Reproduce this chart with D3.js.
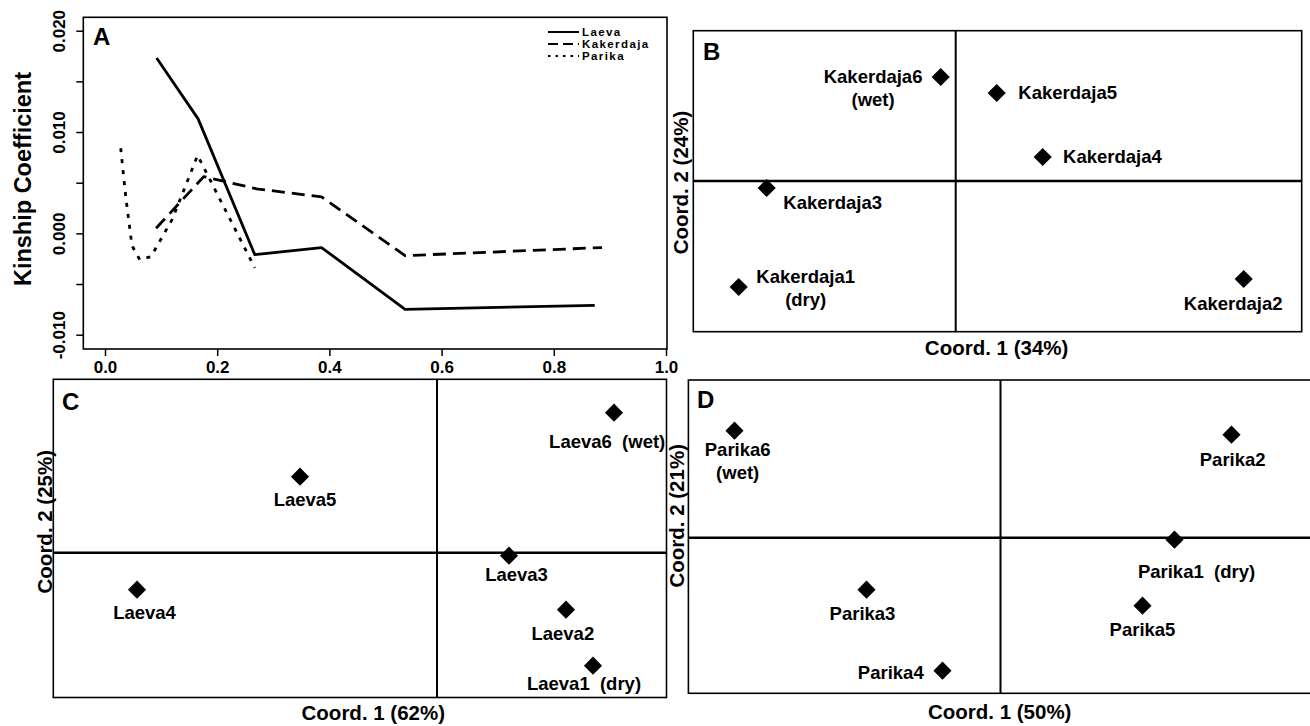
<!DOCTYPE html>
<html><head><meta charset="utf-8">
<script src="https://cdn.jsdelivr.net/npm/d3@7"></script>
<style>
html,body{margin:0;padding:0;background:#fff;}
svg{display:block;background:#fff;}
text{font-family:"Liberation Sans",Arial,Helvetica,sans-serif;font-weight:bold;fill:#000;white-space:pre;}
</style></head><body>
<svg id="chart" width="1310" height="726"></svg>
<script>
// ---------------- DATA ----------------
// Panel A: kinship coefficient vs distance class
const laevaDist = [0.092, 0.166, 0.267, 0.386, 0.535, 0.873];
const laevaKin  = [0.0173, 0.0113, -0.0021, -0.0014, -0.0075, -0.0071];
const kakerdajaDist = [0.091, 0.176, 0.270, 0.386, 0.535, 0.886];
const kakerdajaKin  = [0.0005, 0.0056, 0.0044, 0.0036, -0.0022, -0.0014];
const parikaDist = [0.028, 0.037, 0.048, 0.062, 0.082, 0.120, 0.165, 0.267];
const parikaKin  = [0.0084, 0.0036, -0.0012, -0.0026, -0.0023, 0.0014, 0.0077, -0.0034];
const xTicksA = [0, 0.2, 0.4, 0.6, 0.8, 1.0];
const xTickLabelsA = ["0.0", "0.2", "0.4", "0.6", "0.8", "1.0"];
const yTicksA = [-0.010, -0.005, 0, 0.005, 0.010, 0.015, 0.020];
const yTickLabelsA = ["-0.010", "", "0.000", "", "0.010", "", "0.020"];
const legendNames = ["Laeva", "Kakerdaja", "Parika"];
const yTitleA = "Kinship Coefficient";

// Panel B: Kakerdaja PCoA
const kakNames  = ["Kakerdaja1", "Kakerdaja2", "Kakerdaja3", "Kakerdaja4", "Kakerdaja5", "Kakerdaja6"];
const kakNotes  = ["(dry)", "", "", "", "", "(wet)"];
const kakCoord1 = [-0.217, 0.288, -0.189, 0.087, 0.041, -0.015];
const kakCoord2 = [-0.106, -0.098, -0.007, 0.024, 0.088, 0.104];
const kakTitles = ["Coord. 1 (34%)", "Coord. 2 (24%)"];

// Panel C: Laeva PCoA
const laeNames  = ["Laeva1", "Laeva2", "Laeva3", "Laeva4", "Laeva5", "Laeva6"];
const laeNotes  = ["(dry)", "", "", "", "", "(wet)"];
const laeCoord1 = [0.156, 0.129, 0.072, -0.300, -0.137, 0.177];
const laeCoord2 = [-0.113, -0.057, -0.003, -0.037, 0.076, 0.140];
const laeTitles = ["Coord. 1 (62%)", "Coord. 2 (25%)"];

// Panel D: Parika PCoA
const parNames  = ["Parika1", "Parika2", "Parika3", "Parika4", "Parika5", "Parika6"];
const parNotes  = ["(dry)", "", "", "", "", "(wet)"];
const parCoord1 = [0.174, 0.231, -0.134, -0.058, 0.142, -0.266];
const parCoord2 = [-0.002, 0.103, -0.052, -0.133, -0.068, 0.107];
const parTitles = ["Coord. 1 (50%)", "Coord. 2 (21%)"];

const panelLetters = ["A", "B", "C", "D"];

// ---------------- LAYOUT ----------------
const svg = d3.select("#chart");
const FONT = '"Liberation Sans", Arial, Helvetica, sans-serif';

function label(g, x, y, s, size, anchor) {
  return g.append("text").attr("x", x).attr("y", y).attr("dy", "0.35em")
    .attr("font-size", size).attr("text-anchor", anchor || "middle").text(s);
}
function vlabel(g, x, y, s, size) {
  return g.append("text").attr("transform", `translate(${x},${y}) rotate(-90)`)
    .attr("dy", "0.35em").attr("font-size", size).attr("text-anchor", "middle").text(s);
}
function letter(g, x, y, s) {
  g.append("text").attr("x", x).attr("y", y).attr("font-size", 24).text(s);
}

// ---- Panel A ----
const boxA = {left: 83.3, right: 667, top: 17.3, bottom: 349};
const xA = d3.scaleLinear().domain([0, 1]).range([105, 666]);
const yA = d3.scaleLinear().domain([-0.01, 0.02]).range([334.7, 30.7]);
const gA = svg.append("g");

const xAxis = d3.axisBottom(xA).tickValues(xTicksA)
  .tickFormat((d, i) => xTickLabelsA[i]).tickSize(7).tickPadding(5);
gA.append("g").attr("transform", `translate(0,${boxA.bottom})`).call(xAxis)
  .call(g => {
    g.attr("font-family", FONT).attr("font-size", 17);
    g.select(".domain").remove();
    g.selectAll(".tick line").attr("stroke", "#000").attr("stroke-width", 1.5);
    g.selectAll(".tick text").attr("fill", "#000");
  });

const yAxis = d3.axisLeft(yA).tickValues(yTicksA)
  .tickFormat((d, i) => yTickLabelsA[i]).tickSize(7);
gA.append("g").attr("transform", `translate(${boxA.left},0)`).call(yAxis)
  .call(g => {
    g.attr("font-family", FONT).attr("font-size", 17);
    g.select(".domain").remove();
    g.selectAll(".tick line").attr("stroke", "#000").attr("stroke-width", 1.5);
    g.selectAll(".tick text").attr("x", null).attr("text-anchor", "middle")
      .attr("dy", "0.35em").attr("transform", "translate(-24,0) rotate(-90)").attr("fill", "#000");
  });

gA.append("rect").attr("x", boxA.left).attr("y", boxA.top)
  .attr("width", boxA.right - boxA.left).attr("height", boxA.bottom - boxA.top)
  .attr("fill", "none").attr("stroke", "#000").attr("stroke-width", 1.6);

const seriesA = [
  {name: legendNames[0], xs: laevaDist, ys: laevaKin, dash: null},
  {name: legendNames[1], xs: kakerdajaDist, ys: kakerdajaKin, dash: "13,7"},
  {name: legendNames[2], xs: parikaDist, ys: parikaKin, dash: "4,7"}
];
const lineA = d3.line().x(d => xA(d[0])).y(d => yA(d[1]));
seriesA.forEach(s => {
  gA.append("path").datum(s.xs.map((x, i) => [x, s.ys[i]]))
    .attr("d", lineA).attr("fill", "none").attr("stroke", "#000")
    .attr("stroke-width", 2.8).attr("stroke-dasharray", s.dash)
    .attr("stroke-linejoin", "round");
});

// legend
const legY = [32, 44, 56];
seriesA.forEach((s, i) => {
  gA.append("line").attr("x1", 548).attr("x2", 579).attr("y1", legY[i]).attr("y2", legY[i])
    .attr("stroke", "#000").attr("stroke-width", 2)
    .attr("stroke-dasharray", s.dash ? (i === 1 ? "10,5" : "2.5,5") : null);
  gA.append("text").attr("x", 582).attr("y", legY[i]).attr("dy", "0.35em")
    .attr("font-size", 11.5).attr("letter-spacing", 1.4).text(s.name);
});

vlabel(gA, 23, 179, yTitleA, 23.5);
letter(gA, 93, 45, panelLetters[0]);

// ---- PCoA panels ----
const diamond = d3.symbol().type(d3.symbolSquare).size(165);

function pcoa(cfg) {
  const g = svg.append("g");
  const b = cfg.box;
  const x = d3.scaleLinear().domain(cfg.xDomain).range([b.left, b.right]);
  const y = d3.scaleLinear().domain(cfg.yDomain).range([b.bottom, b.top]);
  g.append("rect").attr("x", b.left).attr("y", b.top)
    .attr("width", b.right - b.left).attr("height", b.bottom - b.top)
    .attr("fill", "#fff").attr("stroke", "#000").attr("stroke-width", 1.6);
  g.append("line").attr("x1", x(0)).attr("x2", x(0)).attr("y1", b.top).attr("y2", b.bottom)
    .attr("stroke", "#000").attr("stroke-width", 2);
  g.append("line").attr("x1", b.left).attr("x2", b.right).attr("y1", y(0)).attr("y2", y(0))
    .attr("stroke", "#000").attr("stroke-width", 2.6);
  cfg.c1.forEach((v, i) => {
    const px = x(v), py = y(cfg.c2[i]);
    g.append("path").attr("d", diamond)
      .attr("transform", `translate(${px},${py}) rotate(45)`).attr("fill", "#000");
    const L = cfg.layout[i];
    const lines = L.inline ? [cfg.names[i] + (cfg.notes[i] ? "  " + cfg.notes[i] : "")]
                           : [cfg.names[i]].concat(cfg.notes[i] ? [cfg.notes[i]] : []);
    lines.forEach((s, k) => label(g, px + L.dx, py + L.dy + k * 23, s, 18.5, L.anchor));
  });
  label(g, cfg.xTitlePos[0], cfg.xTitlePos[1], cfg.titles[0], 20.5);
  vlabel(g, cfg.yTitlePos[0], cfg.yTitlePos[1], cfg.titles[1], 20.5);
  letter(g, cfg.letterPos[0], cfg.letterPos[1], cfg.letter);
}

// Panel B
pcoa({
  box: {left: 693.3, right: 1301.7, top: 30.7, bottom: 331.7},
  xDomain: [-0.2624, 0.346], yDomain: [-0.1507, 0.1503],
  c1: kakCoord1, c2: kakCoord2, names: kakNames, notes: kakNotes, titles: kakTitles,
  layout: [
    {dx: 67, dy: -10.5, anchor: "middle"},
    {dx: -10.5, dy: 24.7, anchor: "middle"},
    {dx: 66, dy: 15, anchor: "middle"},
    {dx: 20.4, dy: 0, anchor: "start"},
    {dx: 21.6, dy: 0, anchor: "start"},
    {dx: -67.6, dy: 0, anchor: "middle"}
  ],
  xTitlePos: [996.6, 348.3], yTitlePos: [681, 182.5],
  letter: panelLetters[1], letterPos: [703, 60]
});

// Panel C
pcoa({
  box: {left: 53.3, right: 666.5, top: 379.3, bottom: 697.5},
  xDomain: [-0.3837, 0.2295], yDomain: [-0.1448, 0.1734],
  c1: laeCoord1, c2: laeCoord2, names: laeNames, notes: laeNotes, titles: laeTitles,
  layout: [
    {dx: -9, dy: 17.6, anchor: "middle", inline: true},
    {dx: -3.2, dy: 24.3, anchor: "middle"},
    {dx: 7.5, dy: 19, anchor: "middle"},
    {dx: 7.5, dy: 22.4, anchor: "middle"},
    {dx: 5, dy: 22.6, anchor: "middle"},
    {dx: -6.8, dy: 29, anchor: "middle", inline: true}
  ],
  xTitlePos: [373.3, 713.3], yTitlePos: [45, 521.7],
  letter: panelLetters[2], letterPos: [62, 410]
});

// Panel D
pcoa({
  box: {left: 688.4, right: 1320, top: 380, bottom: 693.3},
  xDomain: [-0.3121, 0.3195], yDomain: [-0.1556, 0.1577],
  c1: parCoord1, c2: parCoord2, names: parNames, notes: parNotes, titles: parTitles,
  layout: [
    {dx: 22, dy: 31.7, anchor: "middle", inline: true},
    {dx: 1.2, dy: 25, anchor: "middle"},
    {dx: -4, dy: 23.4, anchor: "middle"},
    {dx: -18.8, dy: 2.3, anchor: "end"},
    {dx: 0, dy: 24.3, anchor: "middle"},
    {dx: 3.2, dy: 19, anchor: "middle"}
  ],
  xTitlePos: [999.7, 711.7], yTitlePos: [677, 515.8],
  letter: panelLetters[3], letterPos: [697, 408]
});
</script>
</body></html>
